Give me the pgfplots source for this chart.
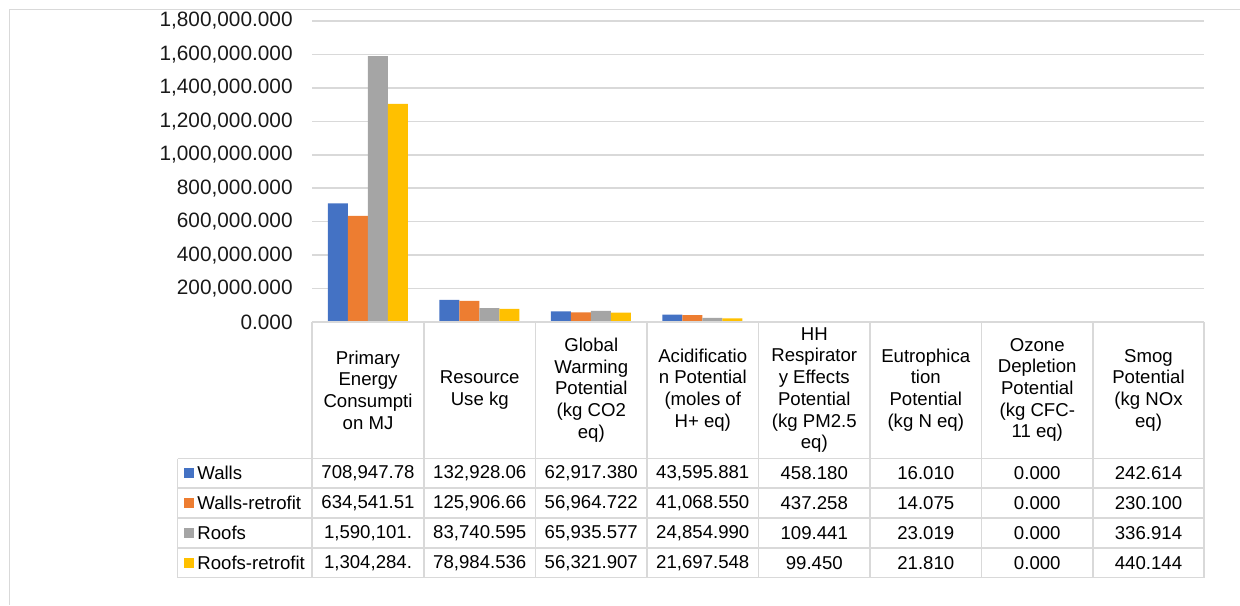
\documentclass[border=0pt]{standalone}
\usepackage{fontspec}
\setmainfont{Liberation Sans}
\usepackage{pgfplots}
\pgfplotsset{compat=1.18}
\definecolor{cA}{HTML}{4472C4}
\definecolor{cB}{HTML}{ED7D31}
\definecolor{cC}{HTML}{A5A5A5}
\definecolor{cD}{HTML}{FFC000}
\definecolor{gridc}{HTML}{D9D9D9}
\newcommand{\tabfont}{\fontsize{9.3}{10.85}\selectfont}
\begin{document}
\begin{tikzpicture}
\path[use as bounding box] (0,0) rectangle (620pt,-302.5pt);
\begin{axis}[
  at={(156pt,-161pt)}, anchor=south west,
  scale only axis, width=446pt, height=150.5pt,
  xmin=-0.5, xmax=7.5, ymin=0, ymax=1800000,
  ytick distance=200000, scaled y ticks=false,
  xtick=\empty,
  ybar=0pt, bar width=10pt,
  axis line style={draw=none},
  major tick length=0pt,
  ymajorgrids, grid style={draw=gridc, line width=0.75pt},
  yticklabel style={font=\fontsize{10.4}{12}\selectfont, text=black!90, anchor=east, inner sep=0pt, xshift=-9.5pt,
    /pgf/number format/fixed, /pgf/number format/fixed zerofill,
    /pgf/number format/precision=3, /pgf/number format/1000 sep={,},
    /pgf/number format/assume math mode=true},
]
\addplot[fill=cA, draw=none] coordinates {(0,708947.78) (1,132928.06) (2,62917.380) (3,43595.881) (4,458.180) (5,16.010) (6,0) (7,242.614)};
\addplot[fill=cB, draw=none] coordinates {(0,634541.51) (1,125906.66) (2,56964.722) (3,41068.550) (4,437.258) (5,14.075) (6,0) (7,230.100)};
\addplot[fill=cC, draw=none] coordinates {(0,1590101) (1,83740.595) (2,65935.577) (3,24854.990) (4,109.441) (5,23.019) (6,0) (7,336.914)};
\addplot[fill=cD, draw=none] coordinates {(0,1304284) (1,78984.536) (2,56321.907) (3,21697.548) (4,99.450) (5,21.810) (6,0) (7,440.144)};
\end{axis}
\begin{scope}[x=0.5pt,y=-0.5pt]
\draw[gridc, line width=0.75pt] (9,9.5) -- (1240,9.5);
\draw[gridc, line width=0.75pt] (9.5,9) -- (9.5,605);
\foreach \xx in {312,424,535.5,647,758.5,870,981.5,1093,1204}
  \draw[gridc, line width=0.75pt] (\xx,322) -- (\xx,577.5);
\draw[gridc, line width=0.75pt] (177.5,458.5) -- (177.5,577.5);
\draw[gridc, line width=0.75pt] (312,322) -- (1204,322);
\foreach \yy in {458.5,488,518,548,577.5}
  \draw[gridc, line width=0.75pt] (177.5,\yy) -- (1204,\yy);
\tikzset{hd/.style={font=\tabfont, align=center, inner sep=0pt}}
\node[hd] at (368,390) {Primary\\Energy\\Consumpti\\on MJ};
\node[hd] at (479.75,390) {Resource\\Use kg};
\node[hd] at (591.25,390) {Global\\Warming\\Potential\\(kg CO2\\eq)};
\node[hd] at (702.75,390) {Acidificatio\\n Potential\\(moles of\\H+ eq)};
\node[hd] at (814.25,390) {HH\\Respirator\\y Effects\\Potential\\(kg PM2.5\\eq)};
\node[hd] at (925.75,390) {Eutrophica\\tion\\Potential\\(kg N eq)};
\node[hd] at (1037.25,390) {Ozone\\Depletion\\Potential\\(kg CFC-\\11 eq)};
\node[hd] at (1148.5,390) {Smog\\Potential\\(kg NOx\\eq)};
% row labels with legend keys
\fill[cA] (184,468.3) rectangle (194,478.3);
\fill[cB] (184,498) rectangle (194,508);
\fill[cC] (184,528) rectangle (194,538);
\fill[cD] (184,557.8) rectangle (194,567.8);
\tikzset{rl/.style={font=\tabfont, anchor=west, inner sep=0pt}}
\node[rl] at (197,473.3) {Walls};
\node[rl] at (197,503) {Walls-retrofit};
\node[rl] at (197,533) {Roofs};
\node[rl] at (197,562.8) {Roofs-retrofit};
% data cells
\tikzset{dc/.style={font=\tabfont, inner sep=0pt}}
\foreach \cx/\a/\b/\c/\d in {
  368/{708,947.78}/{634,541.51}/{1,590,101.}/{1,304,284.},
  479.75/{132,928.06}/{125,906.66}/{83,740.595}/{78,984.536},
  591.25/{62,917.380}/{56,964.722}/{65,935.577}/{56,321.907},
  702.75/{43,595.881}/{41,068.550}/{24,854.990}/{21,697.548},
  814.25/{458.180}/{437.258}/{109.441}/{99.450},
  925.75/{16.010}/{14.075}/{23.019}/{21.810},
  1037.25/{0.000}/{0.000}/{0.000}/{0.000},
  1148.5/{242.614}/{230.100}/{336.914}/{440.144}}{
  \node[dc] at (\cx,473.3) {\a};
  \node[dc] at (\cx,503) {\b};
  \node[dc] at (\cx,533) {\c};
  \node[dc] at (\cx,562.8) {\d};
}
\end{scope}
\end{tikzpicture}
\end{document}
